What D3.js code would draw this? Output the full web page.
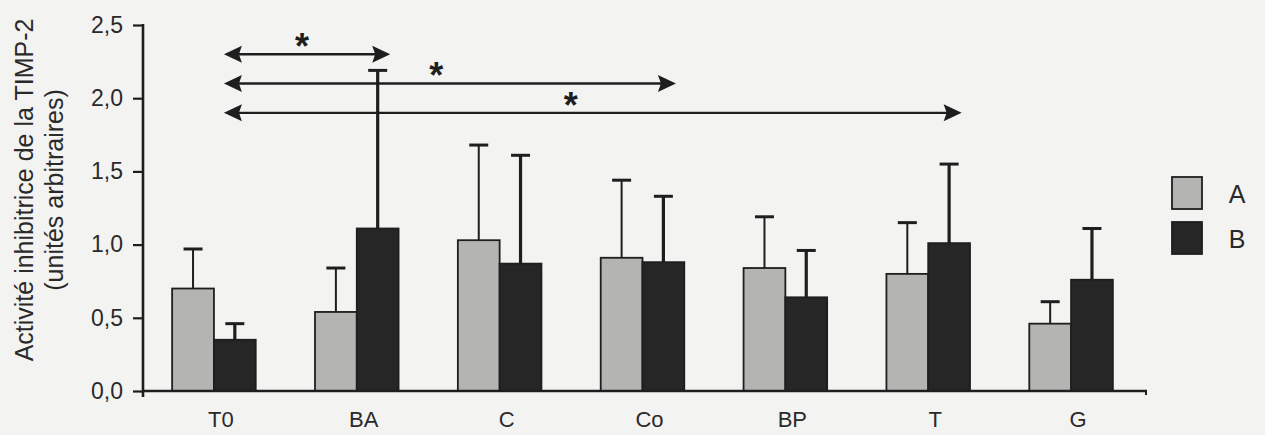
<!DOCTYPE html>
<html>
<head>
<meta charset="utf-8">
<script src="https://cdn.jsdelivr.net/npm/d3@7"></script>
<style>
  html, body { margin: 0; padding: 0; background: #f3f3f1; }
  svg { display: block; font-family: "Liberation Sans", Arial, sans-serif; }
</style>
</head>
<body>
<svg id="chart" width="1265" height="435"></svg>
<script>
// Groups on the x axis
const categories = ["T0", "BA", "C", "Co", "BP", "T", "G"];
// Two series per group
const seriesNames = ["A", "B"];
const meanA = [0.70, 0.54, 1.03, 0.91, 0.84, 0.80, 0.46];
const meanB = [0.35, 1.11, 0.87, 0.88, 0.64, 1.01, 0.76];
// Upper error (SD) above each bar
const errA = [0.27, 0.30, 0.65, 0.53, 0.35, 0.35, 0.15];
const errB = [0.11, 1.08, 0.74, 0.45, 0.32, 0.54, 0.35];
// Y axis ticks
const yTicks = [0, 0.5, 1.0, 1.5, 2.0, 2.5];
const yTickLabels = ["0,0", "0,5", "1,0", "1,5", "2,0", "2,5"];
// Significant comparisons (double arrows with a star)
const sigFrom = ["T0", "T0", "T0"];
const sigTo = ["BA", "Co", "T"];
const sigLevel = [2.3, 2.1, 1.9];
const sigLabel = ["*", "*", "*"];

const svg = d3.select("#chart");
const plotLeft = 143, plotRight = 1147, plotTop = 25, plotBase = 391;
const ink = "#1e1e1e";
const fills = { A: "#b4b4b2", B: "#262626" };

const x = d3.scaleBand().domain(categories)
  .range([142.5, 1142.5]).paddingInner(0.415).paddingOuter(0.2075);
const xs = d3.scaleBand().domain(seriesNames).range([0, x.bandwidth()]);
const y = d3.scaleLinear().domain([0, 2.5]).range([plotBase, plotTop]);

const rows = categories.map((c, i) => ({
  cat: c,
  values: [
    { s: "A", v: meanA[i], e: errA[i] },
    { s: "B", v: meanB[i], e: errB[i] }
  ]
}));

// Bars and error bars
const g = svg.append("g");
const groups = g.selectAll("g.grp").data(rows).join("g")
  .attr("class", "grp")
  .attr("transform", d => `translate(${x(d.cat)},0)`);

groups.selectAll("line.stem").data(d => d.values).join("line")
  .attr("class", "stem")
  .attr("x1", d => xs(d.s) + xs.bandwidth() / 2)
  .attr("x2", d => xs(d.s) + xs.bandwidth() / 2)
  .attr("y1", d => y(d.v))
  .attr("y2", d => y(d.v + d.e))
  .attr("stroke", ink)
  .attr("stroke-width", d => d.s === "A" ? 2 : 3.2);

groups.selectAll("line.cap").data(d => d.values).join("line")
  .attr("class", "cap")
  .attr("x1", d => xs(d.s) + xs.bandwidth() / 2 - 9.5)
  .attr("x2", d => xs(d.s) + xs.bandwidth() / 2 + 9.5)
  .attr("y1", d => y(d.v + d.e))
  .attr("y2", d => y(d.v + d.e))
  .attr("stroke", ink)
  .attr("stroke-width", 3);

groups.selectAll("rect").data(d => d.values).join("rect")
  .attr("x", d => xs(d.s))
  .attr("y", d => y(d.v))
  .attr("width", xs.bandwidth())
  .attr("height", d => y(0) - y(d.v))
  .attr("fill", d => fills[d.s])
  .attr("stroke", ink)
  .attr("stroke-width", 1.8);

// Y axis
const yAxis = svg.append("g")
  .attr("transform", `translate(${plotLeft},0)`)
  .call(d3.axisLeft(y).tickValues(yTicks)
    .tickFormat((d, i) => yTickLabels[i])
    .tickSize(10).tickSizeOuter(0).tickPadding(10));
yAxis.select(".domain").remove();
yAxis.selectAll(".tick line").attr("stroke", ink).attr("stroke-width", 2.2);
yAxis.selectAll(".tick text").attr("fill", "#2a2a2a")
  .style("font-size", "23px");
svg.append("line")
  .attr("x1", plotLeft).attr("x2", plotLeft)
  .attr("y1", y(2.5) - 1).attr("y2", plotBase + 6)
  .attr("stroke", ink).attr("stroke-width", 2.6);

// X axis
const xAxis = svg.append("g")
  .attr("transform", `translate(0,${plotBase})`)
  .call(d3.axisBottom(x).tickSize(0).tickPadding(20));
xAxis.select(".domain").remove();
xAxis.selectAll(".tick text").attr("fill", "#2a2a2a")
  .attr("dx", 7)
  .style("font-size", "22px");
svg.append("line")
  .attr("x1", plotLeft).attr("x2", plotRight)
  .attr("y1", plotBase).attr("y2", plotBase)
  .attr("stroke", ink).attr("stroke-width", 2.6);
svg.append("line")
  .attr("x1", plotRight - 1).attr("x2", plotRight - 1)
  .attr("y1", plotBase - 1).attr("y2", plotBase + 4)
  .attr("stroke", ink).attr("stroke-width", 2);

// Y axis title
const titleLines = ["Activité inhibitrice de la TIMP-2", "(unités arbitraires)"];
const titleX = [33, 63];
svg.selectAll("text.ytitle").data(titleLines).join("text")
  .attr("class", "ytitle")
  .attr("transform", (d, i) => `translate(${titleX[i]},190) rotate(-90)`)
  .attr("text-anchor", "middle")
  .attr("fill", "#2a2a2a")
  .style("font-size", "25px")
  .text(d => d);

// Significance arrows
const center = c => x(c) + x.bandwidth() / 2;
const head = 18, half = 8.5;
const sig = sigFrom.map((f, i) => ({
  x1: center(f) + 10,
  x2: center(sigTo[i]) + x.bandwidth() * 0.4,
  yy: y(sigLevel[i]),
  label: sigLabel[i]
}));
const sg = svg.append("g");
sg.selectAll("line").data(sig).join("line")
  .attr("x1", d => d.x1 + 10).attr("x2", d => d.x2 - 10)
  .attr("y1", d => d.yy).attr("y2", d => d.yy)
  .attr("stroke", ink).attr("stroke-width", 2.4);
sg.selectAll("path.lh").data(sig).join("path")
  .attr("class", "lh")
  .attr("d", d => `M${d.x1},${d.yy}L${d.x1 + head},${d.yy - half}L${d.x1 + head - 3},${d.yy}L${d.x1 + head},${d.yy + half}Z`)
  .attr("fill", ink);
sg.selectAll("path.rh").data(sig).join("path")
  .attr("class", "rh")
  .attr("d", d => `M${d.x2},${d.yy}L${d.x2 - head},${d.yy - half}L${d.x2 - head + 3},${d.yy}L${d.x2 - head},${d.yy + half}Z`)
  .attr("fill", ink);
const starSize = 36;
sg.selectAll("text").data(sig).join("text")
  .attr("x", d => d.x1 + (d.x2 - d.x1) * 0.47)
  .attr("y", d => d.yy - 16 + starSize * 0.58)
  .attr("text-anchor", "middle")
  .attr("fill", ink)
  .style("font-size", starSize + "px")
  .style("font-weight", "bold")
  .text(d => d.label);

// Legend
const lg = svg.append("g");
const legendY = [177, 222];
lg.selectAll("rect").data(seriesNames).join("rect")
  .attr("x", 1172).attr("y", (d, i) => legendY[i])
  .attr("width", 30).attr("height", 32)
  .attr("fill", d => fills[d])
  .attr("stroke", ink).attr("stroke-width", 1.8);
lg.selectAll("text").data(seriesNames).join("text")
  .attr("x", 1237).attr("y", (d, i) => legendY[i] + 26)
  .attr("text-anchor", "middle")
  .attr("fill", "#2a2a2a")
  .style("font-size", "25px")
  .text(d => d);
</script>
</body>
</html>
